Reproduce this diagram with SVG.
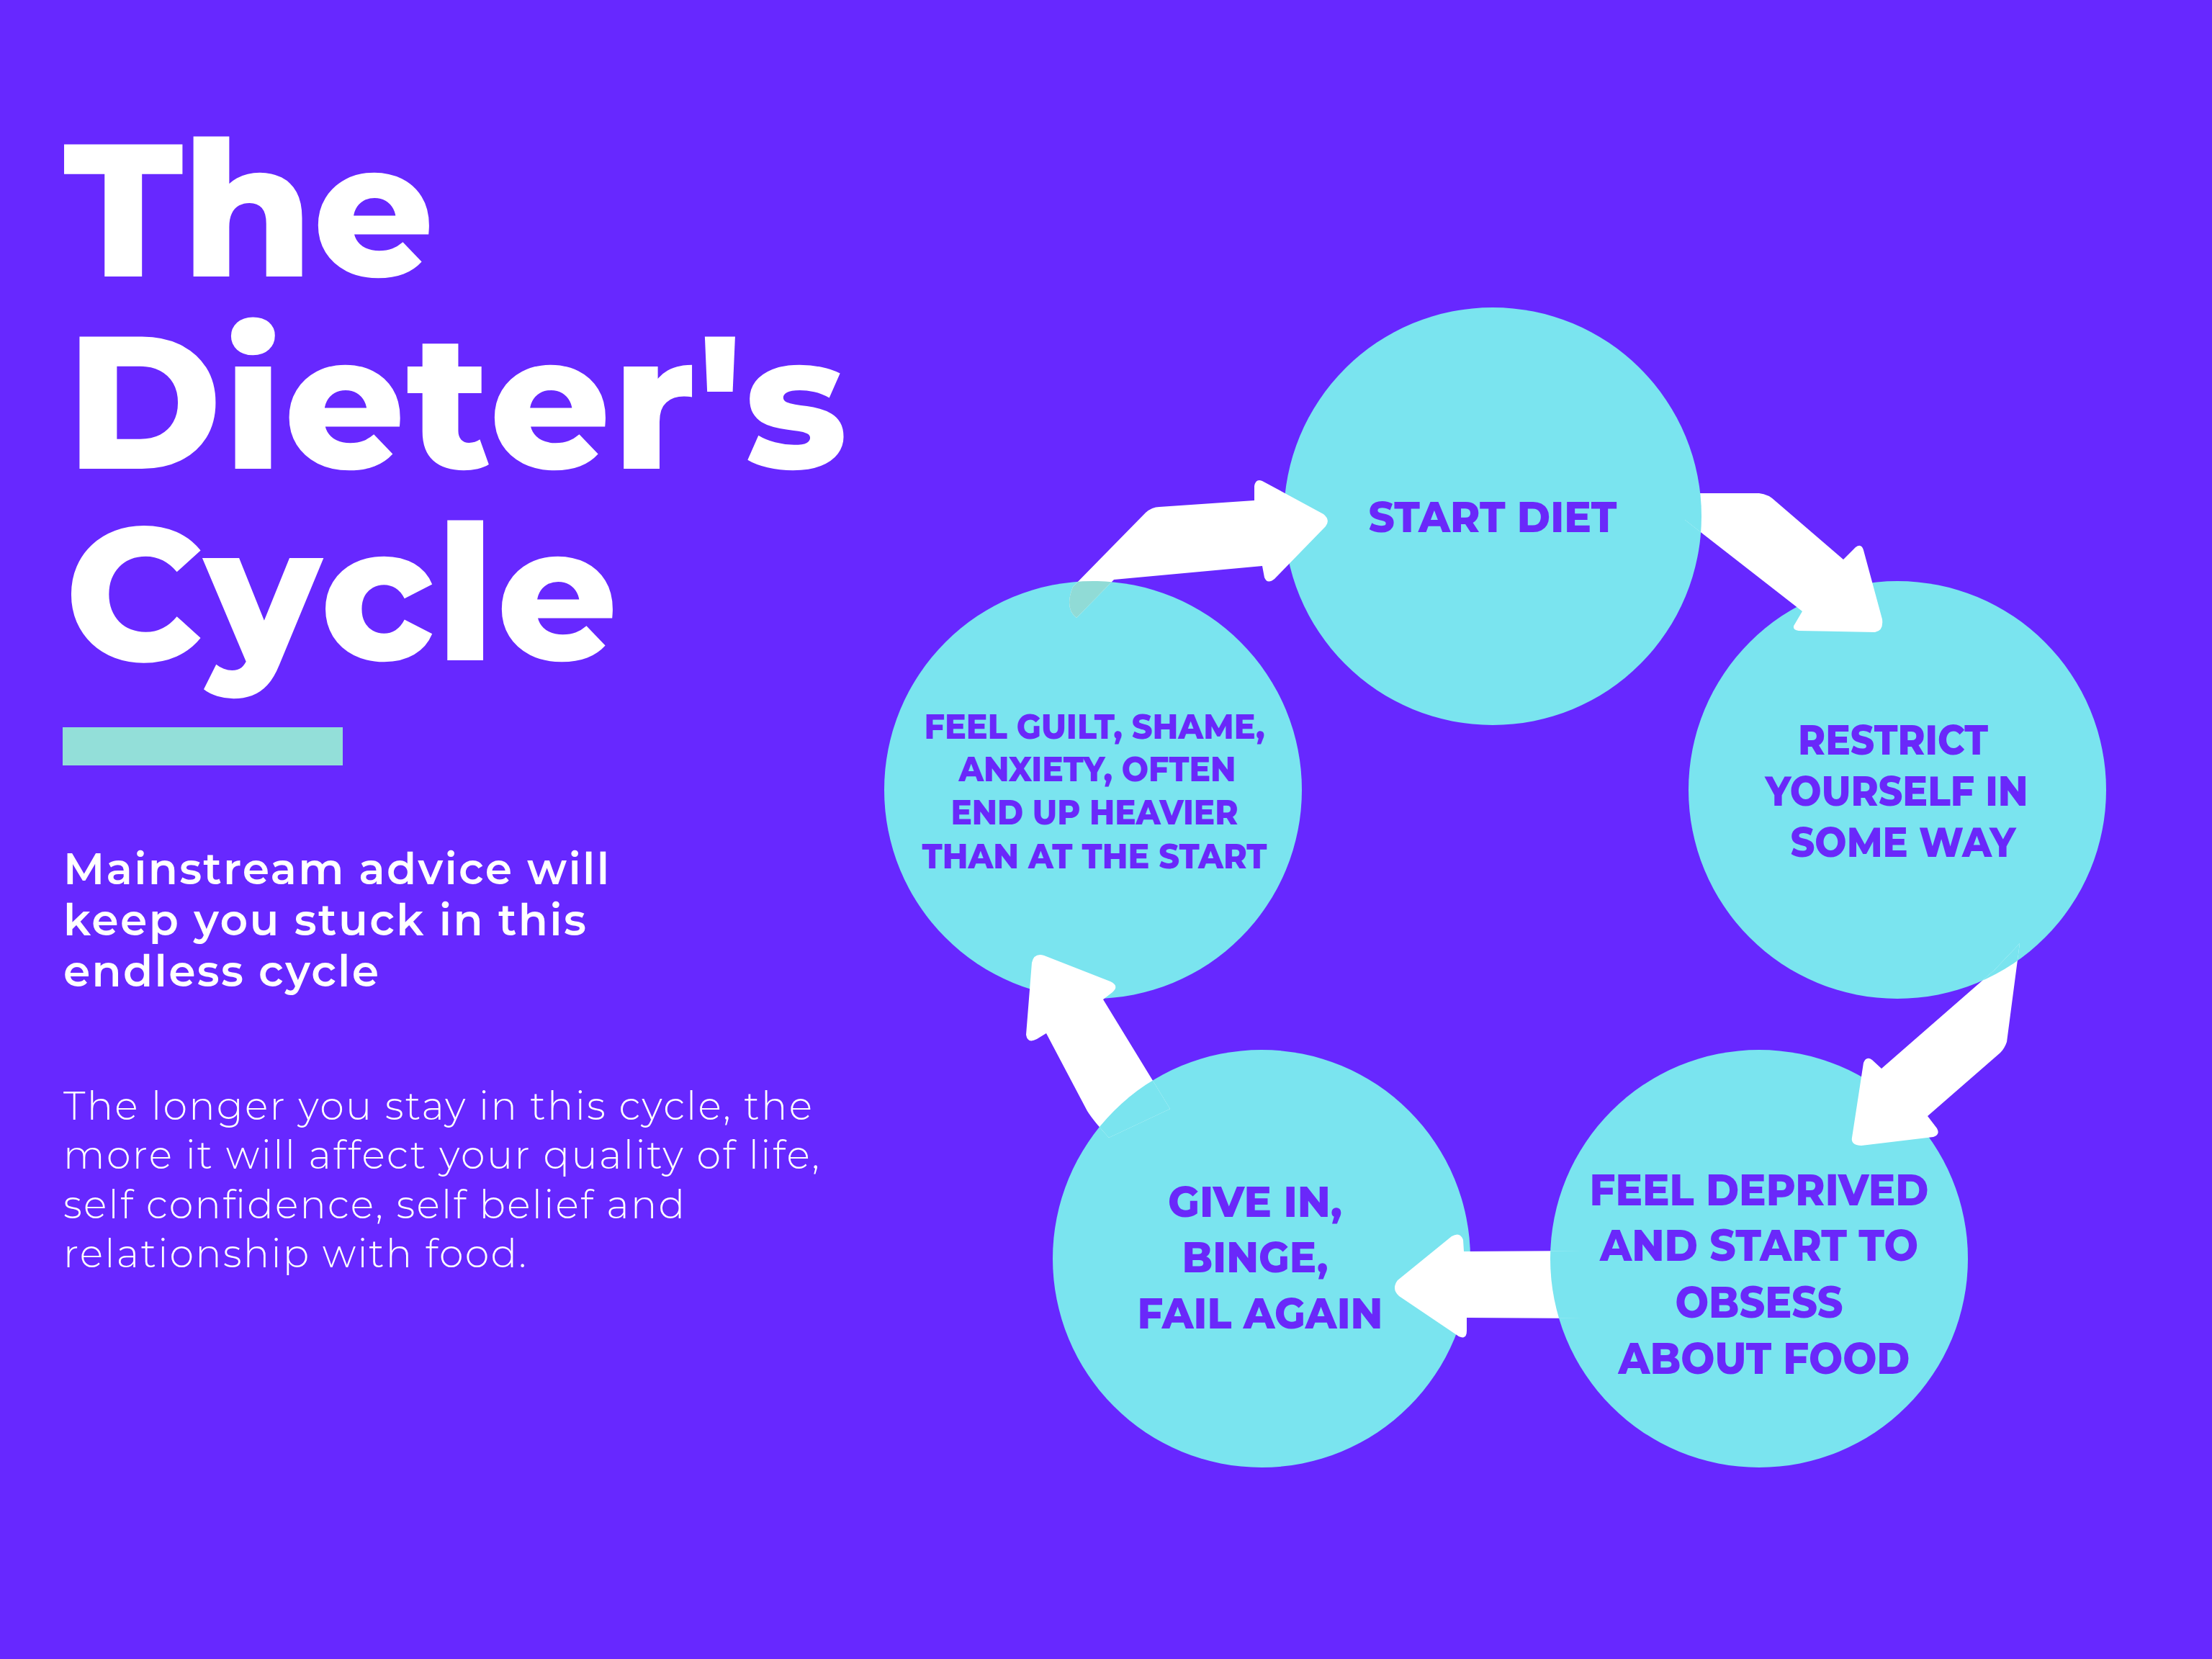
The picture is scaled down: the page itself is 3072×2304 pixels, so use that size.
<svg xmlns="http://www.w3.org/2000/svg" width="3072" height="2304" viewBox="0 0 3072 2304">
<defs>
<style>
.bg{fill:#6728FF}
.circ{fill:#7AE4EF}
.title{font-family:Montserrat,Inter,"Open Sans","Liberation Sans",sans-serif;font-weight:800;font-size:262px;fill:#FFFFFF}
.sub{font-family:Montserrat,Inter,"Open Sans","Liberation Sans",sans-serif;font-weight:600;font-size:60px;fill:#FFFFFF}
.body{font-family:Montserrat,Inter,"Open Sans","Liberation Sans",sans-serif;font-weight:300;font-size:54px;fill:#FFFFFF}
.lbl{font-family:Montserrat,Inter,"Open Sans","Liberation Sans",sans-serif;font-weight:800;fill:#6A28FA;text-anchor:middle}
.arrow{fill:#FFFFFF}
</style>
<path id="a1" d="M1490,815 L1591,712 Q1600,704 1610,704 L1742,695 L1742,675 Q1744,664 1753,668 L1838,714 Q1848,722 1841,731 L1770,804 Q1760,812 1756,802 L1753,786 L1547,805 L1495,858 Q1478,845 1490,815 Z"/>
<path id="a2" d="M2340,685 L2443,685 Q2456,686 2467,697 L2560,777 L2577,760 Q2585,754 2588,764 L2614,860 Q2616,876 2604,878 L2498,876 Q2487,874 2493,866 L2503,849 L2340,722 Z"/>
<path id="a3" d="M2805,1310 L2787,1447 Q2784,1456 2778,1462 L2677,1550 L2690,1567 Q2695,1576 2685,1579 L2585,1591 Q2570,1590 2572,1580 L2588,1476 Q2592,1466 2600,1472 L2613,1484 L2770,1347 Z"/>
<path id="a4" d="M2200,1737 L2033,1738 L2032,1722 Q2028,1710 2016,1717 L1941,1778 Q1932,1790 1943,1800 L2026,1856 Q2037,1861 2037,1848 L2037,1830 L2200,1831 Z"/>
<path id="a5" d="M1625,1540 L1532,1388 L1545,1378 Q1555,1369 1542,1363 L1450,1327 Q1436,1323 1433,1337 L1425,1437 Q1427,1450 1440,1443 L1453,1435 L1510,1543 Q1518,1556 1540,1580 Z"/>
<clipPath id="cGuilt"><circle cx="1518" cy="1097" r="290"/></clipPath>
<clipPath id="cStart"><circle cx="2073" cy="717" r="290"/></clipPath>
<clipPath id="cRestrict"><circle cx="2635" cy="1097" r="290"/></clipPath>
<clipPath id="cDeprived"><circle cx="2443" cy="1748" r="290"/></clipPath>
<clipPath id="cGive"><circle cx="1752" cy="1748" r="290"/></clipPath>
</defs>

<rect class="bg" x="0" y="0" width="3072" height="2304"/>

<g id="header">
<text class="title" x="88" y="384" textLength="515" lengthAdjust="spacing">The</text>
<text class="title" x="92" y="651" textLength="1085" lengthAdjust="spacing">Dieter's</text>
<text class="title" x="90" y="917" textLength="768" lengthAdjust="spacing">Cycle</text>
<rect x="87" y="1010" width="389" height="53" fill="#93DFD9"/>
<text class="sub" x="88" y="1228" textLength="758" lengthAdjust="spacing">Mainstream advice will</text>
<text class="sub" x="88" y="1299" textLength="726" lengthAdjust="spacing">keep you stuck in this</text>
<text class="sub" x="88" y="1370" textLength="438" lengthAdjust="spacing">endless cycle</text>
<text class="body" x="88" y="1555" textLength="1040" lengthAdjust="spacing">The longer you stay in this cycle, the</text>
<text class="body" x="88" y="1623" textLength="1050" lengthAdjust="spacing">more it will affect your quality of life,</text>
<text class="body" x="88" y="1692" textLength="863" lengthAdjust="spacing">self confidence, self belief and</text>
<text class="body" x="88" y="1760" textLength="643" lengthAdjust="spacing">relationship with food.</text>
</g>

<g id="node-start">
<circle class="circ" cx="2073" cy="717" r="290"/>
<text class="lbl" x="2073" y="739" font-size="59" textLength="345" lengthAdjust="spacingAndGlyphs">START DIET</text>
</g>
<g id="node-restrict">
<circle class="circ" cx="2635" cy="1097" r="290"/>
<text class="lbl" font-size="58"><tspan x="2629" y="1048" textLength="264" lengthAdjust="spacingAndGlyphs">RESTRICT</tspan></text>
<text class="lbl" font-size="58"><tspan x="2634" y="1119" textLength="365" lengthAdjust="spacingAndGlyphs">YOURSELF IN</tspan></text>
<text class="lbl" font-size="58"><tspan x="2643" y="1190" textLength="313" lengthAdjust="spacingAndGlyphs">SOME WAY</tspan></text>
</g>
<g id="node-deprived">
<circle class="circ" cx="2443" cy="1748" r="290"/>
<text class="lbl" x="2443" y="1674" font-size="61" textLength="471" lengthAdjust="spacingAndGlyphs">FEEL DEPRIVED</text>
<text class="lbl" x="2443" y="1751" font-size="61" textLength="442" lengthAdjust="spacingAndGlyphs">AND START TO</text>
<text class="lbl" x="2443" y="1830" font-size="61" textLength="233" lengthAdjust="spacingAndGlyphs">OBSESS</text>
<text class="lbl" x="2450" y="1908" font-size="61" textLength="405" lengthAdjust="spacingAndGlyphs">ABOUT FOOD</text>
</g>
<g id="node-givein">
<circle class="circ" cx="1752" cy="1748" r="290"/>
<text class="lbl" x="1743" y="1690" font-size="60" textLength="242" lengthAdjust="spacingAndGlyphs">GIVE IN,</text>
<text class="lbl" x="1743" y="1767" font-size="60" textLength="203" lengthAdjust="spacingAndGlyphs">BINGE,</text>
<text class="lbl" x="1750" y="1845" font-size="60" textLength="341" lengthAdjust="spacingAndGlyphs">FAIL AGAIN</text>
</g>
<g id="node-guilt">
<circle class="circ" cx="1518" cy="1097" r="290"/>
<text class="lbl" x="1520" y="1026" font-size="49" textLength="473" lengthAdjust="spacingAndGlyphs">FEEL GUILT, SHAME,</text>
<text class="lbl" x="1524" y="1085" font-size="49" textLength="385" lengthAdjust="spacingAndGlyphs">ANXIETY, OFTEN</text>
<text class="lbl" x="1520" y="1145" font-size="49" textLength="399" lengthAdjust="spacingAndGlyphs">END UP HEAVIER</text>
<text class="lbl" x="1520" y="1206" font-size="49" textLength="479" lengthAdjust="spacingAndGlyphs">THAN AT THE START</text>
</g>

<g id="connectors">
<use href="#a1" class="arrow"/>
<use href="#a1" fill="#90DBD6" clip-path="url(#cGuilt)"/>
<use href="#a2" class="arrow"/>
<use href="#a2" fill="#7AE4EF" clip-path="url(#cStart)"/>
<use href="#a3" class="arrow"/>
<use href="#a3" fill="#7AE4EF" clip-path="url(#cRestrict)"/>
<use href="#a4" class="arrow"/>
<use href="#a4" fill="#7AE4EF" clip-path="url(#cDeprived)"/>
<use href="#a5" class="arrow"/>
<use href="#a5" fill="#7AE4EF" clip-path="url(#cGive)"/>
</g>
</svg>
